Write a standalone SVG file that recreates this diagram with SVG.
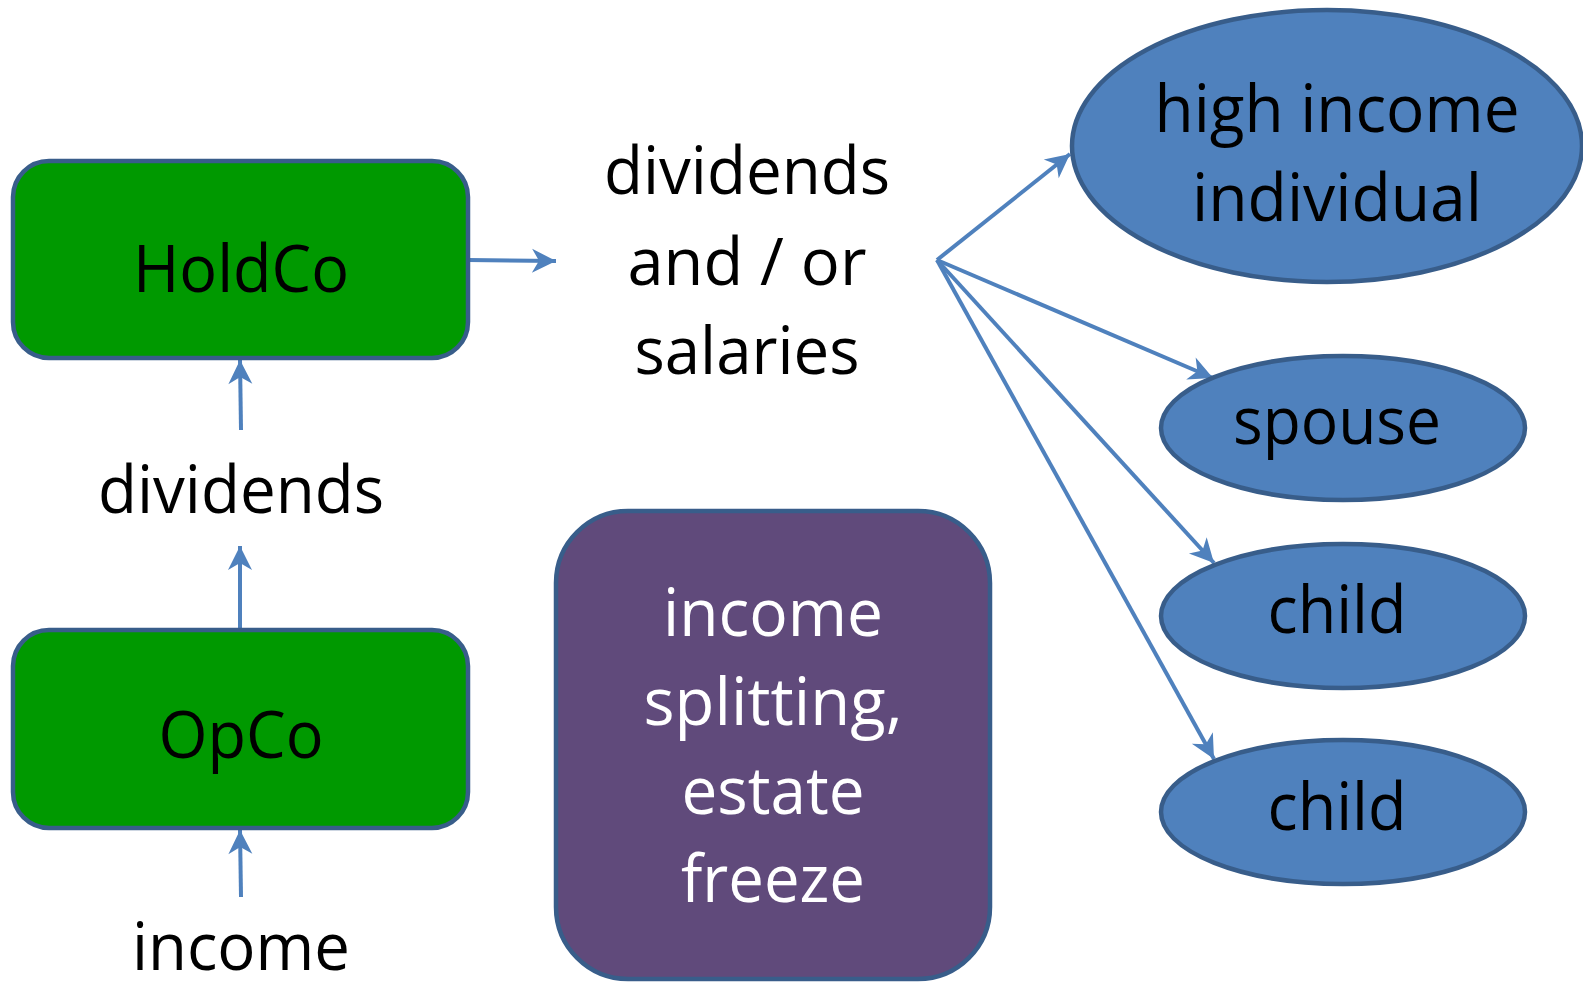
<svg xmlns="http://www.w3.org/2000/svg" width="1583" height="983" viewBox="0 0 1583 983">
  <style>
    .box { stroke: #385D8A; stroke-width: 4.5; }
    .green { fill: #009900; }
    .purple { fill: #604A7B; }
    .oval { fill: #4F81BD; stroke: #385D8A; stroke-width: 4.5; }
    .lbl { font-family: "Open Sans", "Liberation Sans", sans-serif; font-size: 66px; text-anchor: middle; fill: #000000; }
    .white { fill: #FFFFFF; }
    .conn { stroke: #4F81BD; stroke-width: 4; fill: none; marker-end: url(#arrow); }
  </style>
  <defs>
    <marker id="arrow" markerUnits="userSpaceOnUse" markerWidth="30" markerHeight="30" viewBox="-26 -15 30 30" refX="0" refY="0" orient="auto">
      <path d="M0,0 L-24,-12 L-17,0 L-24,12 Z" fill="#4F81BD"/>
    </marker>
  </defs>
  <rect width="1583" height="983" fill="#FFFFFF"/>

  <g id="connectors">
    <line class="conn" x1="468" y1="260" x2="556" y2="261"/>
    <line class="conn" x1="241" y1="430" x2="240" y2="360"/>
    <line class="conn" x1="240" y1="629" x2="240" y2="546"/>
    <line class="conn" x1="241" y1="897" x2="240" y2="830"/>
    <line class="conn" x1="937" y1="260" x2="1070" y2="154"/>
    <line class="conn" x1="937" y1="260" x2="1213" y2="378"/>
    <line class="conn" x1="937" y1="260" x2="1214" y2="563"/>
    <line class="conn" x1="937" y1="260" x2="1214" y2="759"/>
  </g>

  <g id="holdco">
    <rect class="box green" x="13" y="161" width="455" height="197" rx="36"/>
    <text class="lbl" x="241" y="292" textLength="216" lengthAdjust="spacingAndGlyphs">HoldCo</text>
  </g>

  <g id="dividends-label">
    <text class="lbl" x="241" y="513" textLength="286" lengthAdjust="spacingAndGlyphs">dividends</text>
  </g>

  <g id="opco">
    <rect class="box green" x="13" y="630" width="455" height="198" rx="36"/>
    <text class="lbl" x="241" y="758" textLength="165" lengthAdjust="spacingAndGlyphs">OpCo</text>
  </g>

  <g id="income-label">
    <text class="lbl" x="241" y="970" textLength="218" lengthAdjust="spacingAndGlyphs">income</text>
  </g>

  <g id="payout-label">
    <text class="lbl" x="747" y="194" textLength="286" lengthAdjust="spacingAndGlyphs">dividends</text>
    <text class="lbl" x="747" y="285" textLength="239" lengthAdjust="spacingAndGlyphs">and / or</text>
    <text class="lbl" x="747" y="374" textLength="225" lengthAdjust="spacingAndGlyphs">salaries</text>
  </g>

  <g id="strategy">
    <rect class="box purple" x="556" y="511" width="434" height="468" rx="72"/>
    <text class="lbl white" x="773" y="636" textLength="220" lengthAdjust="spacingAndGlyphs">income</text>
    <text class="lbl white" x="773" y="725" textLength="259" lengthAdjust="spacingAndGlyphs">splitting,</text>
    <text class="lbl white" x="773" y="814" textLength="183" lengthAdjust="spacingAndGlyphs">estate</text>
    <text class="lbl white" x="773" y="902" textLength="184" lengthAdjust="spacingAndGlyphs">freeze</text>
  </g>

  <g id="high-income">
    <ellipse class="oval" cx="1327" cy="146" rx="255" ry="136"/>
    <text class="lbl" x="1337" y="132" textLength="365" lengthAdjust="spacingAndGlyphs">high income</text>
    <text class="lbl" x="1337" y="221" textLength="290" lengthAdjust="spacingAndGlyphs">individual</text>
  </g>

  <g id="spouse">
    <ellipse class="oval" cx="1343" cy="428" rx="182" ry="72"/>
    <text class="lbl" x="1337" y="444" textLength="208" lengthAdjust="spacingAndGlyphs">spouse</text>
  </g>

  <g id="child-1">
    <ellipse class="oval" cx="1343" cy="616" rx="182" ry="72"/>
    <text class="lbl" x="1337" y="633" textLength="139" lengthAdjust="spacingAndGlyphs">child</text>
  </g>

  <g id="child-2">
    <ellipse class="oval" cx="1343" cy="812" rx="182" ry="72"/>
    <text class="lbl" x="1337" y="830" textLength="139" lengthAdjust="spacingAndGlyphs">child</text>
  </g>
</svg>
